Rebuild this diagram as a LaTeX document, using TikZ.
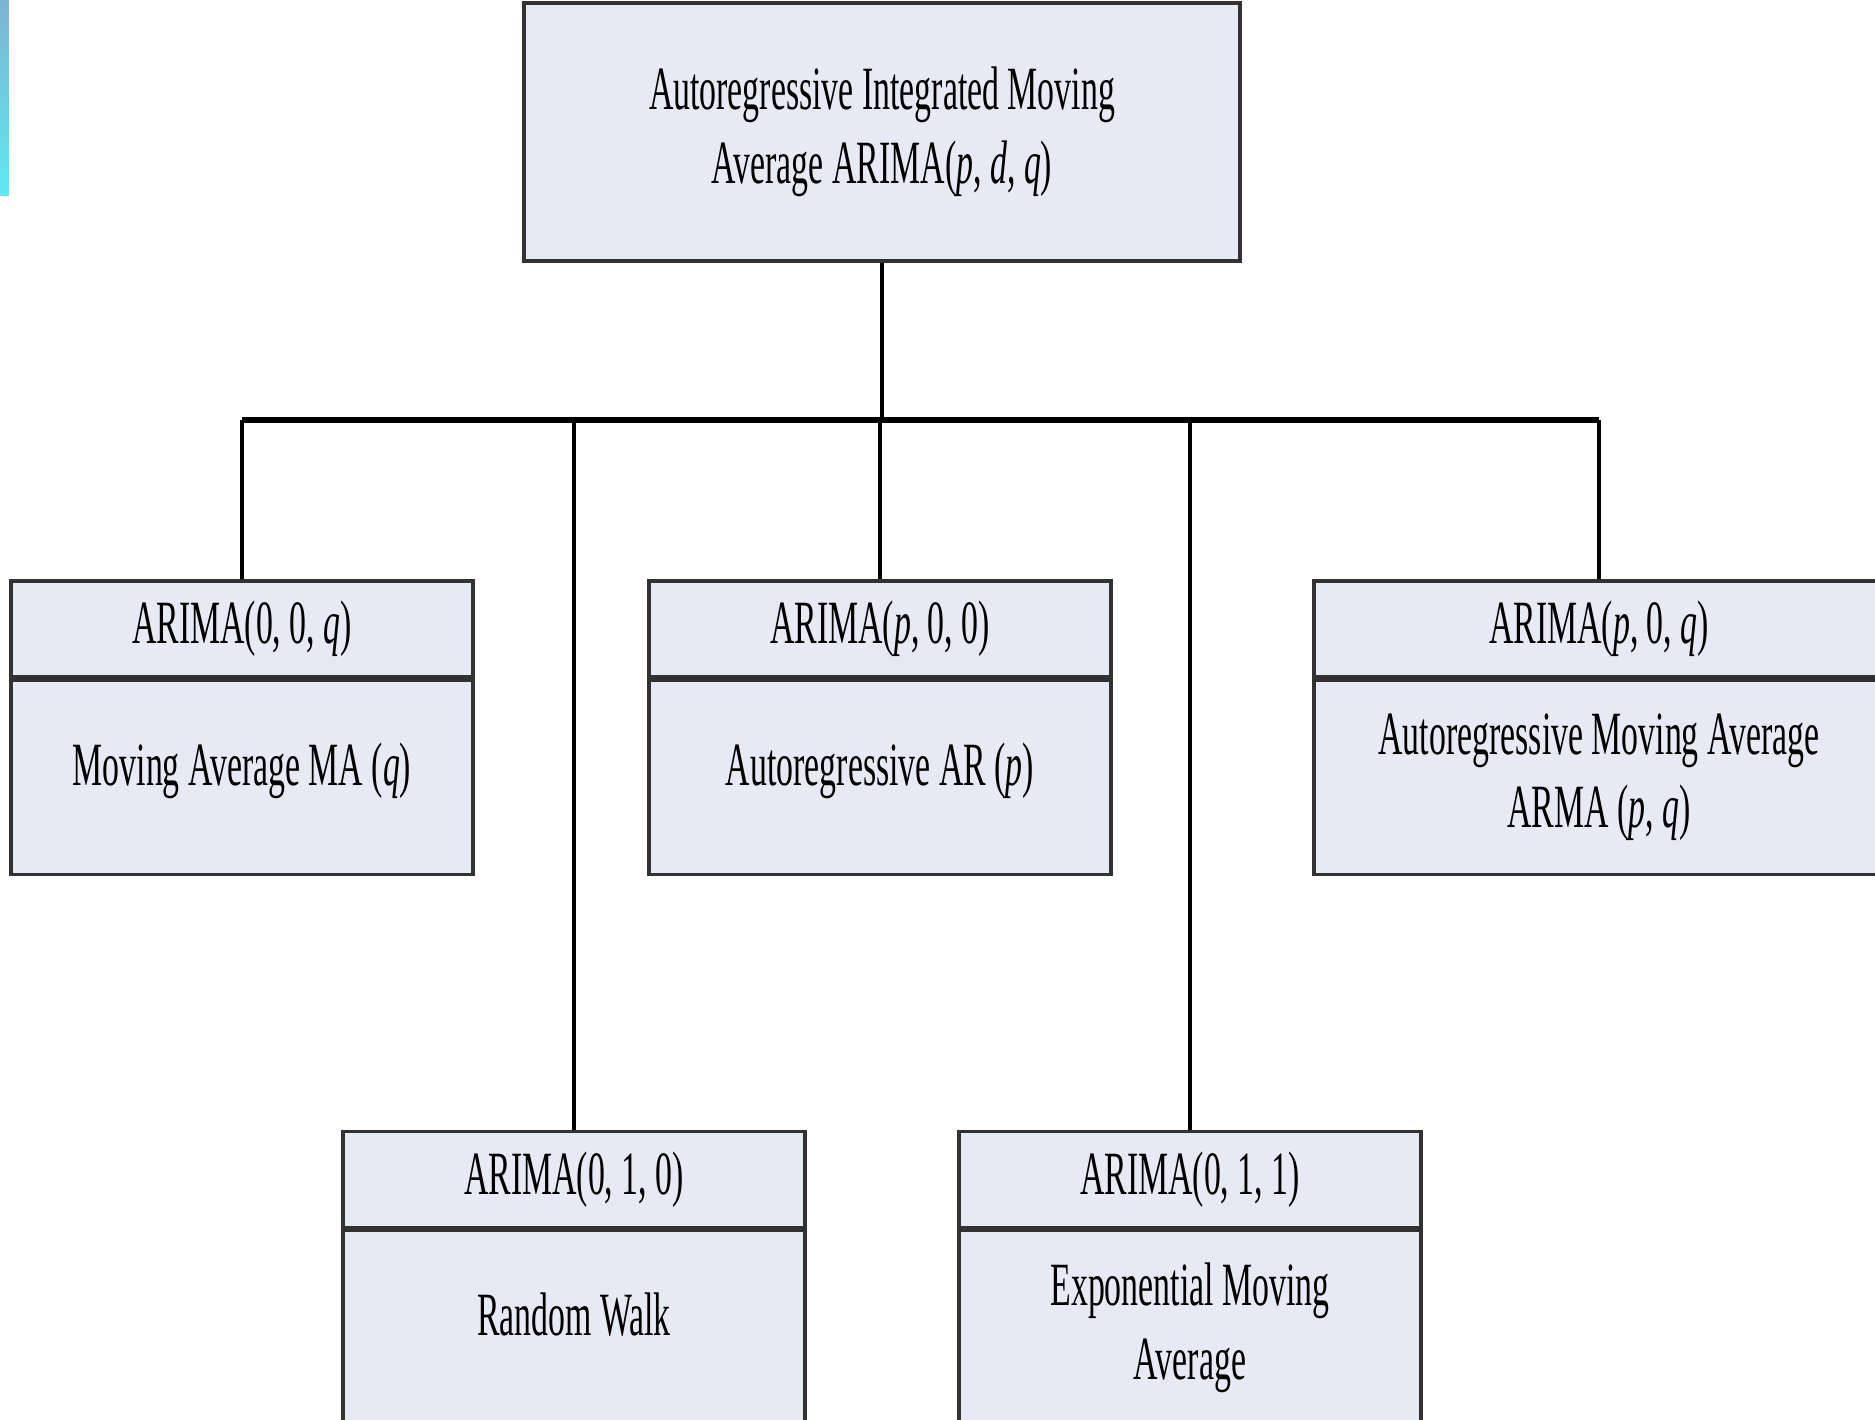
\documentclass[tikz,border=0pt]{standalone}
\usepackage{fontspec}
\setmainfont[FakeStretch=0.55]{Liberation Serif}
\usepackage{tikz}
\usetikzlibrary{positioning}
\definecolor{boxfill}{RGB}{230,234,244}
\definecolor{boxline}{RGB}{50,50,50}
\tikzstyle{block}   = [draw=boxline, line width=0.9pt, fill=boxfill, align=center, inner sep=2pt, font=\fontsize{17.5}{21}\selectfont]
\tikzstyle{head}    = [block, minimum width=4.62cm, minimum height=0.96cm]
\tikzstyle{body}    = [block, minimum width=4.62cm, minimum height=1.94cm]
\tikzstyle{edge}    = [line width=1pt, draw=black]
\tikzstyle{bus}     = [line width=1.6pt, draw=black]

\begin{document}
\begin{tikzpicture}[scale=1]
\useasboundingbox (0,0) rectangle (18.75,-14.2);

% slide strip at the left edge
\shade[top color={rgb,255:red,125;green,180;blue,210}, bottom color={rgb,255:red,95;green,232;blue,242}] (0,0) rectangle (0.09,-1.95);

\node[block, minimum width=7.16cm, minimum height=2.58cm] (ARIMA) at (8.82,-1.32) {Autoregressive Integrated Moving\\Average ARIMA(\textit{p}, \textit{d}, \textit{q})};

\coordinate (bus) at (8.82,-4.20);

\node[head] (MAh) at (2.42,-6.29) {ARIMA(0, 0, \textit{q})};
\node[body, text depth=0.27cm, below=0pt of MAh] (MAb) {Moving Average MA (\textit{q})};

\node[head] (ARh) at (8.80,-6.29) {ARIMA(\textit{p}, 0, 0)};
\node[body, text depth=0.27cm, below=0pt of ARh] (ARb) {Autoregressive AR (\textit{p})};

\node[head, minimum width=5.70cm] (ARMAh) at (15.99,-6.29) {ARIMA(\textit{p}, 0, \textit{q})};
\node[body, minimum width=5.70cm, below=0pt of ARMAh] (ARMAb) {Autoregressive Moving Average\\ARMA (\textit{p}, \textit{q})};

\node[head] (RWh) at (5.74,-11.795) {ARIMA(0, 1, 0)};
\node[body, text depth=0.27cm, below=0pt of RWh] (RWb) {Random Walk};

\node[head] (EMAh) at (11.90,-11.795) {ARIMA(0, 1, 1)};
\node[body, below=0pt of EMAh] (EMAb) {Exponential Moving\\Average};

\draw[edge] (ARIMA.south) -- (ARIMA.south |- bus);
\draw[bus] (MAh.north |- bus) -- (ARMAh.north |- bus);

\draw[edge] (MAh.north |- bus) -- (MAh.north);
\draw[edge] (RWh.north |- bus) -- (RWh.north);
\draw[edge] (ARh.north |- bus) -- (ARh.north);
\draw[edge] (EMAh.north |- bus) -- (EMAh.north);
\draw[edge] (ARMAh.north |- bus) -- (ARMAh.north);

\end{tikzpicture}
\end{document}
